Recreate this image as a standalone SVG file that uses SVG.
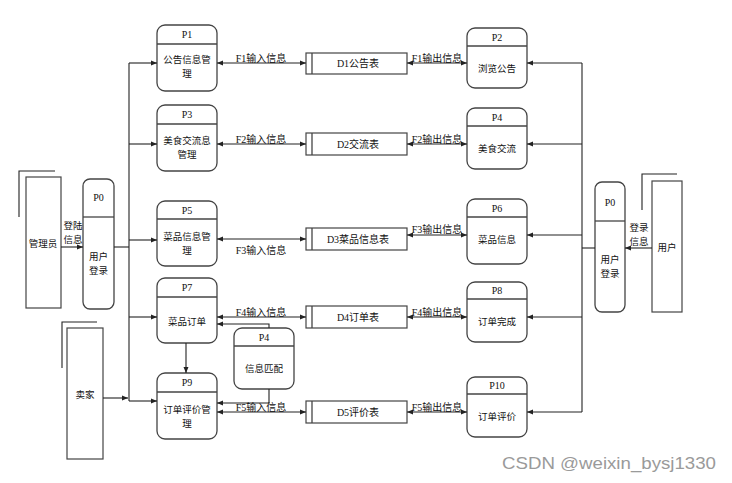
<svg xmlns="http://www.w3.org/2000/svg" width="732" height="483" viewBox="0 0 732 483">
<style>
.nb{fill:#fff;stroke:#444;stroke-width:1.3}
.hd{stroke:#444;stroke-width:1.3}
.st{fill:#fff;stroke:#444;stroke-width:1.2}
.ln{fill:none;stroke:#222;stroke-width:1.1}
.t{font-family:"Liberation Serif","Noto Sans CJK SC",serif;font-size:10px;fill:#111;text-anchor:middle}
.c{font-family:"Noto Sans CJK SC","Liberation Sans",sans-serif;font-size:9.5px;fill:#111;text-anchor:middle}
.lb{font-family:"Liberation Serif","Noto Sans CJK SC",serif;font-size:10px;fill:#111;text-anchor:middle}
</style>
<defs>
<marker id="a" markerUnits="userSpaceOnUse" markerWidth="6" markerHeight="6" refX="6" refY="3" orient="auto-start-reverse">
<path d="M0,0.5 L6,3 L0,5.5 z" fill="#222"/>
</marker>
</defs>
<rect width="732" height="483" fill="#fff"/>

<g id="admin">
<path class="ln" d="M19,217 V171 H55"/>
<rect class="st" x="26" y="177" width="35" height="131"/>
<text class="c" x="43" y="247">管理员</text>
</g>
<g id="seller">
<path class="ln" d="M62,368 V322 H97"/>
<rect class="st" x="67" y="328" width="36" height="131"/>
<text class="c" x="85" y="398">卖家</text>
</g>
<g id="user">
<path class="ln" d="M642,210 V174 H677"/>
<rect class="st" x="652" y="181" width="30" height="131"/>
<text class="c" x="667" y="251">用户</text>
</g>

<g id="P0L">
<rect class="nb" x="83" y="179" width="31" height="130" rx="7"/>
<line class="hd" x1="83" y1="217" x2="114" y2="217"/>
<text class="t" x="98.5" y="201">P0</text>
<text class="c" x="98.5" y="260">用户</text>
<text class="c" x="98.5" y="274">登录</text>
</g>
<g id="P0R">
<rect class="nb" x="595" y="182" width="30" height="130" rx="7"/>
<line class="hd" x1="595" y1="221" x2="625" y2="221"/>
<text class="t" x="610" y="206">P0</text>
<text class="c" x="610" y="263">用户</text>
<text class="c" x="610" y="277">登录</text>
</g>

<g id="P1">
<rect class="nb" x="157" y="25" width="60" height="66" rx="8"/>
<line class="hd" x1="157" y1="44" x2="217" y2="44"/>
<text class="t" x="187" y="38">P1</text>
<text class="c" x="187" y="63">公告信息管</text>
<text class="c" x="187" y="77">理</text>
</g>
<g id="P3">
<rect class="nb" x="157" y="105" width="60" height="66" rx="8"/>
<line class="hd" x1="157" y1="124" x2="217" y2="124"/>
<text class="t" x="187" y="118">P3</text>
<text class="c" x="187" y="144">美食交流息</text>
<text class="c" x="187" y="158">管理</text>
</g>
<g id="P5">
<rect class="nb" x="157" y="201" width="60" height="65" rx="8"/>
<line class="hd" x1="157" y1="219" x2="217" y2="219"/>
<text class="t" x="187" y="214">P5</text>
<text class="c" x="187" y="240">菜品信息管</text>
<text class="c" x="187" y="254">理</text>
</g>
<g id="P7">
<rect class="nb" x="157" y="278" width="60" height="65" rx="8"/>
<line class="hd" x1="157" y1="297" x2="217" y2="297"/>
<text class="t" x="187" y="291">P7</text>
<text class="c" x="187" y="325">菜品订单</text>
</g>
<g id="P9">
<rect class="nb" x="157" y="373" width="60" height="66" rx="8"/>
<line class="hd" x1="157" y1="392" x2="217" y2="392"/>
<text class="t" x="187" y="386">P9</text>
<text class="c" x="187" y="413">订单评价管</text>
<text class="c" x="187" y="427">理</text>
</g>
<g id="P4m">
<rect class="nb" x="234" y="328" width="60" height="61" rx="8"/>
<line class="hd" x1="234" y1="346" x2="294" y2="346"/>
<text class="t" x="264" y="341">P4</text>
<text class="c" x="264" y="372">信息匹配</text>
</g>

<g id="P2">
<rect class="nb" x="467" y="28" width="60" height="60" rx="8"/>
<line class="hd" x1="467" y1="46" x2="527" y2="46"/>
<text class="t" x="497" y="41">P2</text>
<text class="c" x="497" y="72">浏览公告</text>
</g>
<g id="P4">
<rect class="nb" x="467" y="108" width="60" height="61" rx="8"/>
<line class="hd" x1="467" y1="126" x2="527" y2="126"/>
<text class="t" x="497" y="121">P4</text>
<text class="c" x="497" y="152">美食交流</text>
</g>
<g id="P6">
<rect class="nb" x="467" y="199" width="60" height="65" rx="8"/>
<line class="hd" x1="467" y1="217" x2="527" y2="217"/>
<text class="t" x="497" y="212">P6</text>
<text class="c" x="497" y="243">菜品信息</text>
</g>
<g id="P8">
<rect class="nb" x="467" y="282" width="60" height="60" rx="8"/>
<line class="hd" x1="467" y1="299" x2="527" y2="299"/>
<text class="t" x="497" y="294">P8</text>
<text class="c" x="497" y="325">订单完成</text>
</g>
<g id="P10">
<rect class="nb" x="467" y="377" width="60" height="60" rx="8"/>
<line class="hd" x1="467" y1="394" x2="527" y2="394"/>
<text class="t" x="497" y="389">P10</text>
<text class="c" x="497" y="420">订单评价</text>
</g>

<g id="D1">
<rect class="st" x="306" y="53" width="101" height="21"/>
<line class="hd" x1="312" y1="53" x2="312" y2="74"/>
<text class="lb" x="358" y="67">D1公告表</text>
</g>
<g id="D2">
<rect class="st" x="306" y="133" width="101" height="22"/>
<line class="hd" x1="312" y1="133" x2="312" y2="155"/>
<text class="lb" x="358" y="148">D2交流表</text>
</g>
<g id="D3">
<rect class="st" x="306" y="228" width="101" height="22"/>
<line class="hd" x1="312" y1="228" x2="312" y2="250"/>
<text class="lb" x="358" y="243">D3菜品信息表</text>
</g>
<g id="D4">
<rect class="st" x="306" y="306" width="101" height="22"/>
<line class="hd" x1="312" y1="306" x2="312" y2="328"/>
<text class="lb" x="358" y="321">D4订单表</text>
</g>
<g id="D5">
<rect class="st" x="306" y="401" width="101" height="22"/>
<line class="hd" x1="312" y1="401" x2="312" y2="423"/>
<text class="lb" x="358" y="416">D5评价表</text>
</g>

<g id="connectors">
<line class="ln" x1="61" y1="247" x2="83" y2="247" marker-end="url(#a)"/>
<line class="ln" x1="114" y1="247" x2="129" y2="247"/>
<line class="ln" x1="129" y1="63" x2="129" y2="401"/>
<line class="ln" x1="129" y1="63" x2="157" y2="63" marker-end="url(#a)"/>
<line class="ln" x1="129" y1="144" x2="157" y2="144" marker-end="url(#a)"/>
<line class="ln" x1="129" y1="240" x2="157" y2="240" marker-end="url(#a)"/>
<line class="ln" x1="129" y1="317" x2="157" y2="317" marker-end="url(#a)"/>
<line class="ln" x1="129" y1="401" x2="157" y2="401" marker-end="url(#a)"/>
<line class="ln" x1="103" y1="398" x2="128" y2="398" marker-end="url(#a)"/>

<line class="ln" x1="652" y1="248" x2="625" y2="248" marker-end="url(#a)"/>
<line class="ln" x1="595" y1="248" x2="582" y2="248"/>
<line class="ln" x1="582" y1="63" x2="582" y2="412"/>
<line class="ln" x1="582" y1="63" x2="527" y2="63" marker-end="url(#a)"/>
<line class="ln" x1="582" y1="144" x2="527" y2="144" marker-end="url(#a)"/>
<line class="ln" x1="582" y1="235" x2="527" y2="235" marker-end="url(#a)"/>
<line class="ln" x1="582" y1="317" x2="527" y2="317" marker-end="url(#a)"/>
<line class="ln" x1="582" y1="412" x2="527" y2="412" marker-end="url(#a)"/>

<line class="ln" x1="217" y1="63" x2="306" y2="63" marker-start="url(#a)" marker-end="url(#a)"/>
<line class="ln" x1="407" y1="63" x2="467" y2="63" marker-start="url(#a)" marker-end="url(#a)"/>
<line class="ln" x1="217" y1="144" x2="306" y2="144" marker-start="url(#a)" marker-end="url(#a)"/>
<line class="ln" x1="407" y1="144" x2="467" y2="144" marker-start="url(#a)" marker-end="url(#a)"/>
<line class="ln" x1="217" y1="239" x2="306" y2="239" marker-start="url(#a)" marker-end="url(#a)"/>
<line class="ln" x1="407" y1="235" x2="467" y2="235" marker-start="url(#a)" marker-end="url(#a)"/>
<line class="ln" x1="217" y1="317" x2="306" y2="317" marker-start="url(#a)" marker-end="url(#a)"/>
<line class="ln" x1="407" y1="317" x2="467" y2="317" marker-start="url(#a)" marker-end="url(#a)"/>
<line class="ln" x1="217" y1="412" x2="306" y2="412" marker-start="url(#a)" marker-end="url(#a)"/>
<line class="ln" x1="407" y1="412" x2="467" y2="412" marker-start="url(#a)" marker-end="url(#a)"/>

<path class="ln" d="M269,328 V324 H217" marker-end="url(#a)"/>
<path class="ln" d="M269,389 V403 H217" marker-end="url(#a)"/>
<line class="ln" x1="186" y1="343" x2="186" y2="373" marker-end="url(#a)"/>

<text class="c" x="73" y="229">登陆</text>
<text class="c" x="73" y="243">信息</text>
<text class="c" x="639" y="231">登录</text>
<text class="c" x="639" y="245">信息</text>

<text class="lb" x="261" y="62">F1输入信息</text>
<text class="lb" x="437" y="62">F1输出信息</text>
<text class="lb" x="261" y="143">F2输入信息</text>
<text class="lb" x="437" y="143">F2输出信息</text>
<text class="lb" x="261" y="254">F3输入信息</text>
<text class="lb" x="437" y="233">F3输出信息</text>
<text class="lb" x="261" y="316">F4输入信息</text>
<text class="lb" x="437" y="316">F4输出信息</text>
<text class="lb" x="261" y="411">F5输入信息</text>
<text class="lb" x="437" y="411">F5输出信息</text>
</g>

<text x="716" y="469" text-anchor="end" font-family="Liberation Sans, sans-serif" font-size="17" textLength="214" lengthAdjust="spacingAndGlyphs" fill="#9a9a9a">CSDN @weixin_bysj1330</text>
</svg>
